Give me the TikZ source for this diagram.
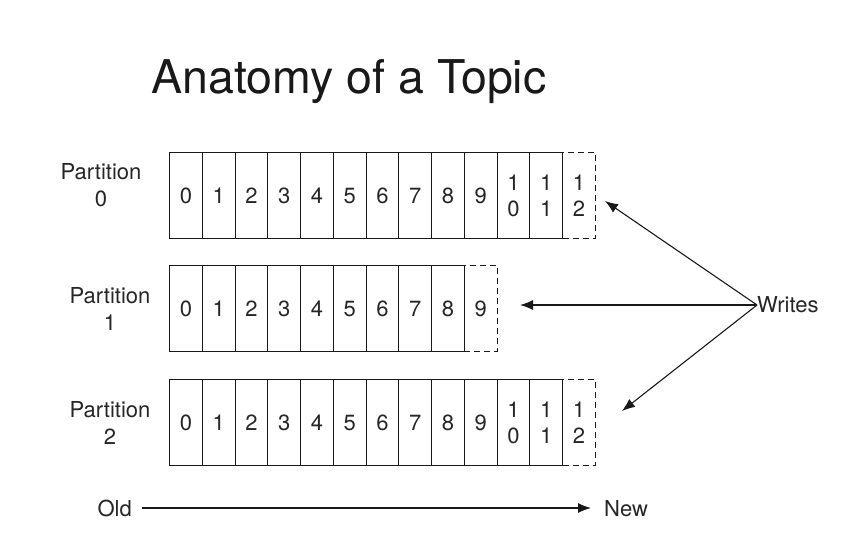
\documentclass[tikz,border=0pt]{standalone}
\usepackage{fontspec}
\setmainfont{TeX Gyre Heros}
\usetikzlibrary{arrows.meta}
\begin{document}
\begin{tikzpicture}[x=1pt,y=-1pt,
  cell/.style={draw=black!90,line width=1.1pt,minimum width=32.75pt,minimum height=86pt,inner sep=0pt,anchor=north west,font=\fontsize{22}{26}\selectfont,text=black!85},
  newcell/.style={cell,dashed,dash pattern=on 6pt off 4pt},
  lbl/.style={font=\fontsize{22}{27}\selectfont,text=black!85,align=center,inner sep=0pt},
  arr/.style={line width=1.1pt,draw=black!90,-{Latex[length=13pt,width=10pt]}}]
\useasboundingbox (0,0) rectangle (856,550);
\fill[white] (0,0) rectangle (856,550);
\node[font=\fontsize{46.5}{50}\selectfont,text=black!90,inner sep=0pt] (title) at (349,82) {Anatomy of a Topic};
% row 0
\foreach \i in {0,...,9} {\node[cell] (a\i) at ({169+32.75*\i},152) {\i};}
\node[cell,align=center] (a10) at ({169+32.75*10},152) {1\\0};
\node[cell,align=center] (a11) at ({169+32.75*11},152) {1\\1};
\node[newcell,align=center] (a12) at ({169+32.75*12},152) {1\\2};
% row 1
\foreach \i in {0,...,8} {\node[cell] (b\i) at ({169+32.75*\i},265) {\i};}
\node[newcell] (b9) at ({169+32.75*9},265) {9};
% row 2
\foreach \i in {0,...,9} {\node[cell] (c\i) at ({169+32.75*\i},379) {\i};}
\node[cell,align=center] (c10) at ({169+32.75*10},379) {1\\0};
\node[cell,align=center] (c11) at ({169+32.75*11},379) {1\\1};
\node[newcell,align=center] (c12) at ({169+32.75*12},379) {1\\2};
% labels
\node[lbl] (p0) at (101,185) {Partition\\0};
\node[lbl] (p1) at (110,309) {Partition\\1};
\node[lbl] (p2) at (110,423) {Partition\\2};
% writes
\node[lbl,anchor=west] (w) at (757,305) {Writes};
\coordinate (t0) at (605,201);
\coordinate (t1) at (520,305);
\coordinate (t2) at (622,411);
\draw[arr] (w.west) -- (t0);
\draw[arr] (w.west) -- (t1);
\draw[arr] (w.west) -- (t2);
% old / new
\node[lbl,anchor=base east] (old) at (132,516) {Old};
\node[lbl,anchor=base west] (new) at (604,516) {New};
\coordinate (oa) at (142,508);
\coordinate (na) at (591,508);
\draw[arr] (oa) -- (na);
\end{tikzpicture}
\end{document}
